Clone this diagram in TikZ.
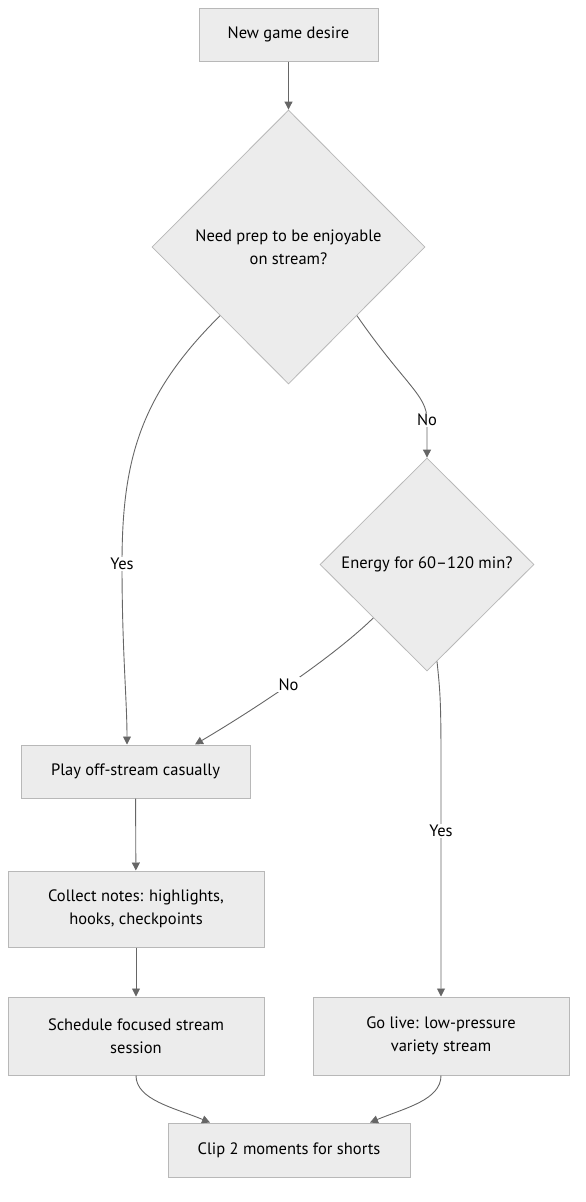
\documentclass[tikz,border=0pt]{standalone}
\usepackage{fontspec}
\setmainfont{PT Sans}
\usetikzlibrary{shapes.geometric,arrows.meta,calc}
\definecolor{nodefill}{HTML}{ECECEC}
\definecolor{nodeline}{HTML}{B8B8B8}
\definecolor{edgecol}{HTML}{666666}
\begin{document}
\begin{tikzpicture}[x=1pt,y=-1pt,
  every node/.style={font=\fontsize{16.5}{23}\selectfont},
  box/.style={draw=nodeline,fill=nodefill,line width=1pt,rectangle,inner sep=0pt,align=center},
  decision/.style={draw=nodeline,fill=nodefill,line width=0.8pt,diamond,inner sep=0pt,align=center},
  edge/.style={draw=edgecol,line width=0.9pt,-{Triangle[length=8pt,width=8pt]}},
  elabel/.style={fill=white,inner sep=1.5pt}]
\useasboundingbox (0,0) rectangle (586,1202);
\node[box,minimum width=179pt,minimum height=53pt] (start) at (288.5,34.5) {New game desire};
\node[decision,minimum width=273pt,minimum height=274pt] (d1) at (288.5,247) {Need prep to be enjoyable\\on stream?};
\node[decision,minimum width=214pt,minimum height=213pt] (d2) at (427,564.5) {Energy for 60–120 min?};
\node[box,minimum width=229pt,minimum height=53pt] (play) at (135.5,771.5) {Play off-stream casually};
\node[box,minimum width=256pt,minimum height=76pt] (notes) at (136,909) {Collect notes: highlights,\\hooks, checkpoints};
\node[box,minimum width=256pt,minimum height=78pt] (sched) at (136,1036) {Schedule focused stream\\session};
\node[box,minimum width=256pt,minimum height=78pt] (live) at (441,1036) {Go live: low-pressure\\variety stream};
\node[box,minimum width=242pt,minimum height=54pt] (clip) at (289,1150) {Clip 2 moments for shorts};

\draw[edge] (start) -- (d1);
\draw[edge] (d1.south west) .. controls (140,395) and (122,460) .. (122,564)
  node[elabel,pos=1] {Yes}
  .. controls (122,650) and (127,700) .. ($(play.north)+(-8.5,0)$);
\draw[edge] (d1.south east) .. controls (405,385) and (427,395) .. (427,420)
  node[elabel,pos=1] {No} -- (d2.north);
\draw[edge] (d2.south west) .. controls (330,660) and (250,712) .. ($(play.north)+(59.5,0)$)
  node[elabel,pos=0.5] {No};
\draw[edge] ($(d2.south)+(10,-10)$) .. controls (440,690) and (441,700) .. (441,760)
  -- (live.north) node[elabel,pos=0.3] {Yes};
\draw[edge] (play) -- (notes);
\draw[edge] (notes) -- (sched);
\draw[edge] (sched.south) .. controls (136,1100) and (175,1108) .. ($(clip.north)+(-79,0)$);
\draw[edge] (live.south) .. controls (441,1100) and (405,1108) .. ($(clip.north)+(81,0)$);
\end{tikzpicture}
\end{document}
